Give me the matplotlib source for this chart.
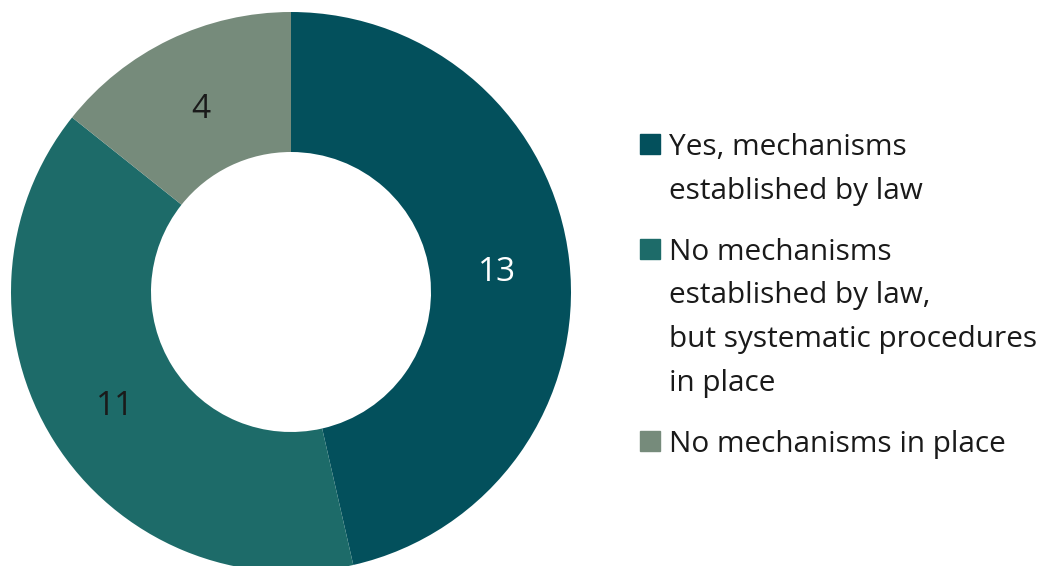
import matplotlib.pyplot as plt
from matplotlib.patches import Rectangle

labels = [
    "Yes, mechanisms\nestablished by law",
    "No mechanisms\nestablished by law,\nbut systematic procedures\nin place",
    "No mechanisms in place",
]
counts = [13, 11, 4]
colors = ["#03505c", "#1d6b69", "#768b7b"]
label_colors = ["white", "#1a1a1a", "#1a1a1a"]

plt.rcParams["font.family"] = ["Open Sans", "DejaVu Sans"]

W, H = 1051, 566
fig = plt.figure(figsize=(W / 100, H / 100), dpi=100)
ax = fig.add_axes([11 / W, -6 / H, 560 / W, 560 / H])

wedges, texts, autotexts = ax.pie(
    counts, colors=colors, startangle=90, counterclock=False,
    radius=1, wedgeprops=dict(width=0.5, linewidth=0),
    autopct=lambda p: f"{round(p * sum(counts) / 100):d}",
    pctdistance=0.74, textprops=dict(fontsize=24),
)
for t, c in zip(autotexts, label_colors):
    t.set_color(c)
    t.set_va("center_baseline")
ax.set_xlim(-1, 1)
ax.set_ylim(-1, 1)
ax.set_aspect("equal")

# legend drawn by hand: one text per line, swatch on the first line
line_h = 43.5
gap = 18
y = 155
for lab, col in zip(labels, colors):
    fig.patches.append(Rectangle((640 / W, (H - y + 1) / H), 20 / W, 20 / H,
                                 transform=fig.transFigure, color=col))
    for line in lab.split("\n"):
        fig.text(669 / W, (H - y) / H, line, fontsize=21.4, color="#1a1a1a",
                 va="baseline", ha="left")
        y += line_h
    y += gap

fig.savefig("out.png", dpi=100)
